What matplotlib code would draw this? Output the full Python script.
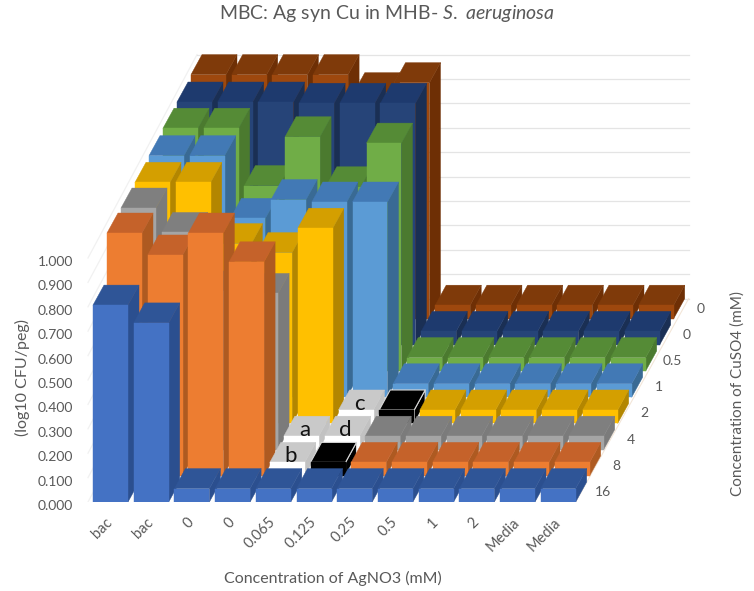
import matplotlib
matplotlib.use("Agg")
import matplotlib.pyplot as plt
from matplotlib.collections import PolyCollection
from matplotlib.transforms import ScaledTranslation

plt.rcParams['font.family'] = ['Lato', 'DejaVu Sans']
plt.rcParams['mathtext.fontset'] = 'custom'
plt.rcParams['mathtext.rm'] = 'Lato'
plt.rcParams['mathtext.it'] = 'Lato:italic'

# ---- data ----
agno3_labels = ['bac', 'bac', '0', '0', '0.065', '0.125', '0.25', '0.5', '1', '2', 'Media', 'Media']
cuso4_labels = ['16', '8', '4', '2', '1', '0.5', '0', '0']
y_tick_values = [0.0, 0.1, 0.2, 0.3, 0.4, 0.5, 0.6, 0.7, 0.8, 0.9, 1.0]

cu_16 = [0.807, 0.734, 0.055, 0.055, 0.055, 0.055, 0.055, 0.055, 0.055, 0.055, 0.055, 0.055]
cu_8 = [0.995, 0.905, 0.995, 0.877, 0.055, 0.055, 0.055, 0.055, 0.055, 0.055, 0.055, 0.055]
cu_4 = [0.990, 0.890, 0.650, 0.640, 0.055, 0.055, 0.055, 0.055, 0.055, 0.055, 0.055, 0.055]
cu_2 = [0.988, 0.988, 0.737, 0.700, 0.800, 0.055, 0.055, 0.055, 0.055, 0.055, 0.055, 0.055]
cu_1 = [0.990, 0.990, 0.733, 0.810, 0.800, 0.800, 0.055, 0.055, 0.055, 0.055, 0.055, 0.055]
cu_05 = [0.995, 0.995, 0.760, 0.960, 0.755, 0.934, 0.055, 0.055, 0.055, 0.055, 0.055, 0.055]
cu_0a = [0.995, 0.995, 0.995, 0.990, 0.990, 0.990, 0.055, 0.055, 0.055, 0.055, 0.055, 0.055]
cu_0b = [1.000, 1.000, 1.000, 1.000, 0.926, 0.967, 0.055, 0.055, 0.055, 0.055, 0.055, 0.055]
series = [cu_16, cu_8, cu_4, cu_2, cu_1, cu_05, cu_0a, cu_0b]

# (row, column) -> annotation letter, and the blacked-out cells
lettered_cells = {(1, 4): 'b', (2, 4): 'a', (2, 5): 'd', (3, 5): 'c'}
black_cells = [(1, 5), (3, 6)]

# ---- styles: front, top, side ----
shades = [
    ('#4472C4', '#2F5597', '#2B4F8F'),
    ('#ED7D31', '#C5622A', '#AE5A21'),
    ('#A5A5A5', '#7F7F7F', '#7B7B7B'),
    ('#FFC000', '#D49F00', '#B38600'),
    ('#5B9BD5', '#4279B5', '#396A94'),
    ('#70AD47', '#558B36', '#4B7A2F'),
    ('#264478', '#1E3A6E', '#1A2F54'),
    ('#9E480E', '#7F3A0A', '#6E2F05'),
]

W, H = 754, 591
PX_COL, PX_VAL = 40.7, 244.0           # pixels per category, per unit of value
ROW_DX, ROW_DY = 14.0 / PX_COL, 26.2 / PX_VAL    # shift per series row
DEP_DX, DEP_DY = 11.0 / PX_COL, 20.0 / PX_VAL    # depth of one bar
BAR_W = 35.0 / PX_COL
AX_L, AX_R, AX_B, AX_T = 80, 700, 502, 30      # axes box in pixels from top-left
COL0_PX = 110.5


def proj(col, row, val, depth=0.0):
    return (col + row * ROW_DX + depth * DEP_DX, val + row * ROW_DY + depth * DEP_DY)


fig = plt.figure(figsize=(W / 100, H / 100), dpi=100, facecolor='white')
ax = fig.add_axes([AX_L / W, 1 - AX_B / H, (AX_R - AX_L) / W, (AX_B - AX_T) / H])
ax.set_xlim((AX_L - COL0_PX) / PX_COL, (AX_R - COL0_PX) / PX_COL)
ax.set_ylim(0, (AX_B - AX_T) / PX_VAL)
for s in ax.spines.values():
    s.set_visible(False)
ax.patch.set_alpha(0)

GRID = '#E4E4E4'
n_rows, n_cols = len(series), len(agno3_labels)
wall_left = -0.43 - 5 / PX_COL
wall_right = proj(n_cols - 1 + 0.43 + 4 / PX_COL, n_rows - 1, 0, 1)[0]
for v in y_tick_values:
    a = proj(wall_left, 0, v)
    b = proj(wall_left, n_rows - 1, v, 1)
    ax.plot([a[0], b[0]], [a[1], b[1]], color='#F1F1F1', lw=0.9, zorder=1)
    ax.plot([b[0], wall_right], [b[1], b[1]], color=GRID, lw=0.9, zorder=1)
# floor outline
fa = proj(n_cols - 1 + 0.43, 0, 0)
ax.plot([fa[0], wall_right], [fa[1], proj(0, n_rows - 1, 0, 1)[1]], color='#F3E6D8', lw=0.8, zorder=1)

polys, faces, edges, widths = [], [], [], []


def add_face(pts, color, edge=None, width=0.3):
    polys.append(pts)
    faces.append(color)
    edges.append(edge or color)
    widths.append(width)


for r in range(n_rows - 1, -1, -1):
    for c in range(n_cols):
        v = series[r][c]
        front, top, side = shades[r]
        outline = None
        lw = 0.3
        if (r, c) in lettered_cells:
            front, top, side = '#FFFFFF', '#C9C9C9', '#C2C2C2'
        if (r, c) in black_cells:
            front, top, side = '#000000', '#000000', '#000000'
            outline, lw = '#D8D8D8', 0.8
        l, rr = c - BAR_W / 2, c + BAR_W / 2
        add_face([proj(rr, r, 0), proj(rr, r, 0, 1), proj(rr, r, v, 1), proj(rr, r, v)], side, outline, lw)
        add_face([proj(l, r, v), proj(rr, r, v), proj(rr, r, v, 1), proj(l, r, v, 1)], top, outline, lw)
        add_face([proj(l, r, 0), proj(rr, r, 0), proj(rr, r, v), proj(l, r, v)], front, None, 0.3)
ax.add_collection(PolyCollection(polys, facecolors=faces, edgecolors=edges, linewidths=widths, zorder=3))

for (r, c), letter in lettered_cells.items():
    x, y = proj(c, r, series[r][c], 0.3)
    ax.text(x, y, letter, ha='center', va='center', fontsize=16, color='#111111', zorder=4)

# ---- axes text ----
TXT = '#595959'
ax.set_yticks(y_tick_values)
ax.set_yticklabels([f'{v:.3f}' for v in y_tick_values], fontsize=10, color=TXT)
ax.tick_params(axis='y', length=0, pad=5)
shift = ScaledTranslation(0, -3 / 100, fig.dpi_scale_trans)
for t in ax.get_yticklabels():
    t.set_transform(t.get_transform() + shift)

ax.set_xticks(range(n_cols))
ax.set_xticklabels(agno3_labels, fontsize=10.5, color=TXT, rotation=45, ha='right', va='center',
                   rotation_mode='anchor')
ax.tick_params(axis='x', length=0, pad=13)

for r, lab in enumerate(cuso4_labels):
    x, y = proj(n_cols - 1 + BAR_W / 2, r, 0)
    ax.text(x + 27 / PX_COL, y + 10 / PX_VAL, lab, ha='center', va='center', fontsize=10, color=TXT, zorder=4)

fig.text(387 / W, 1 - 13 / H, r'MBC: Ag syn Cu in MHB- $\mathit{S.\ aeruginosa}$', ha='center', va='center',
         fontsize=14, color=TXT)
fig.text(333 / W, 1 - 578 / H, 'Concentration of AgNO3 (mM)', ha='center', va='center', fontsize=11.5, color=TXT)
fig.text(22 / W, 1 - 378 / H, '(log10 CFU/peg)', ha='center', va='center', rotation=90, fontsize=11.5, color=TXT)
fig.text(738 / W, 1 - 394 / H, 'Concentration of CuSO4 (mM)', ha='center', va='center', rotation=90,
         fontsize=11, color=TXT)

fig.savefig('out.png', dpi=100)
